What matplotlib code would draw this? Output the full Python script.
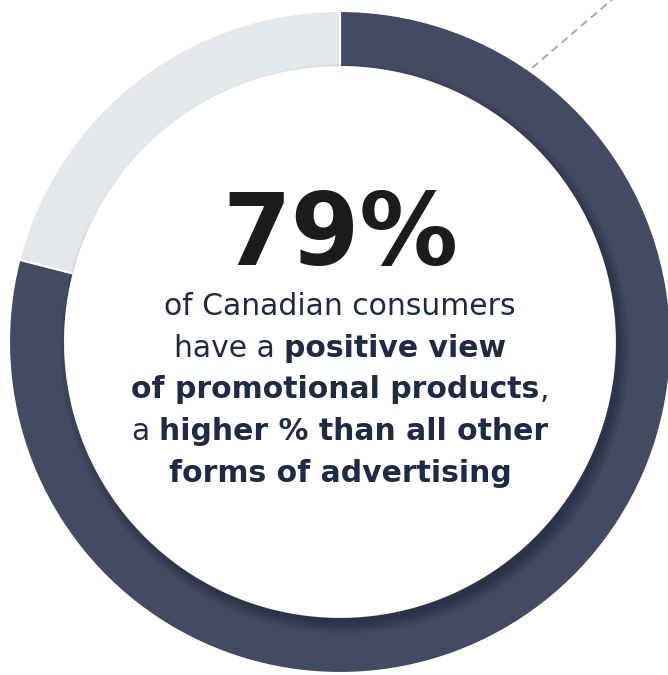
import matplotlib.pyplot as plt
from matplotlib.patches import Circle

# valores do anel
fatias = [79, 21]
cores = ['#434b63', '#e4e7ec']
destaque = '79%'

# linhas do texto central: (trecho, negrito?)
linhas = [
    [('of Canadian consumers', False)],
    [('have a', False), (' ', False), ('positive view', True)],
    [('of promotional products', True), (',', False)],
    [('a', False), (' ', False), ('higher % than all other', True)],
    [('forms of advertising', True)],
]

W, H = 668, 675
fig = plt.figure(figsize=(W / 100, H / 100), dpi=100)
ax = fig.add_axes([0, 0, 1, 1])

cx, cy = 340, H - 342
R, r = 331, 275

ax.pie(fatias, colors=cores, startangle=90, counterclock=False,
       radius=R, center=(cx, cy),
       wedgeprops=dict(width=R - r, edgecolor='white', linewidth=1.5))

# sombra suave do disco branco, puxada para baixo e para a direita
for k in range(12):
    ax.add_patch(Circle((cx + 5, cy - 7), r + 10 - k, color='#141a2b',
                        alpha=0.04, lw=0, zorder=3))
ax.add_patch(Circle((cx, cy), r, facecolor='white', edgecolor='white',
                    lw=1, zorder=4))

# linha tracejada no canto
ax.plot([532, 615], [H - 68, H + 3], color='#a7b0c1', lw=1.5,
        dashes=(3.8, 2.4), zorder=2, clip_on=False)

ax.set_xlim(0, W)
ax.set_ylim(0, H)
ax.set_aspect('equal')
ax.axis('off')

ax.text(cx, H - 265, destaque, ha='center', va='baseline', fontsize=71,
        fontweight='bold', color='#1c1c1c', zorder=5)

renderer = fig.canvas.get_renderer()
tam = 21.5
cor_txt = '#1f2a45'


def largura(s, bold):
    t = ax.text(0, 0, s, fontsize=tam, fontweight='bold' if bold else 'normal')
    w = t.get_window_extent(renderer).width
    t.remove()
    return w


esp = largura('x x', False) - largura('xx', False)
base = H - 315
for i, linha in enumerate(linhas):
    ws = [esp if s == ' ' else largura(s, b) for s, b in linha]
    x = cx - sum(ws) / 2
    y = base - i * 41.7
    for (s, b), w in zip(linha, ws):
        if s != ' ':
            ax.text(x, y, s, ha='left', va='baseline', fontsize=tam,
                    fontweight='bold' if b else 'normal', color=cor_txt, zorder=5)
        x += w

fig.savefig('out.png', dpi=100)
